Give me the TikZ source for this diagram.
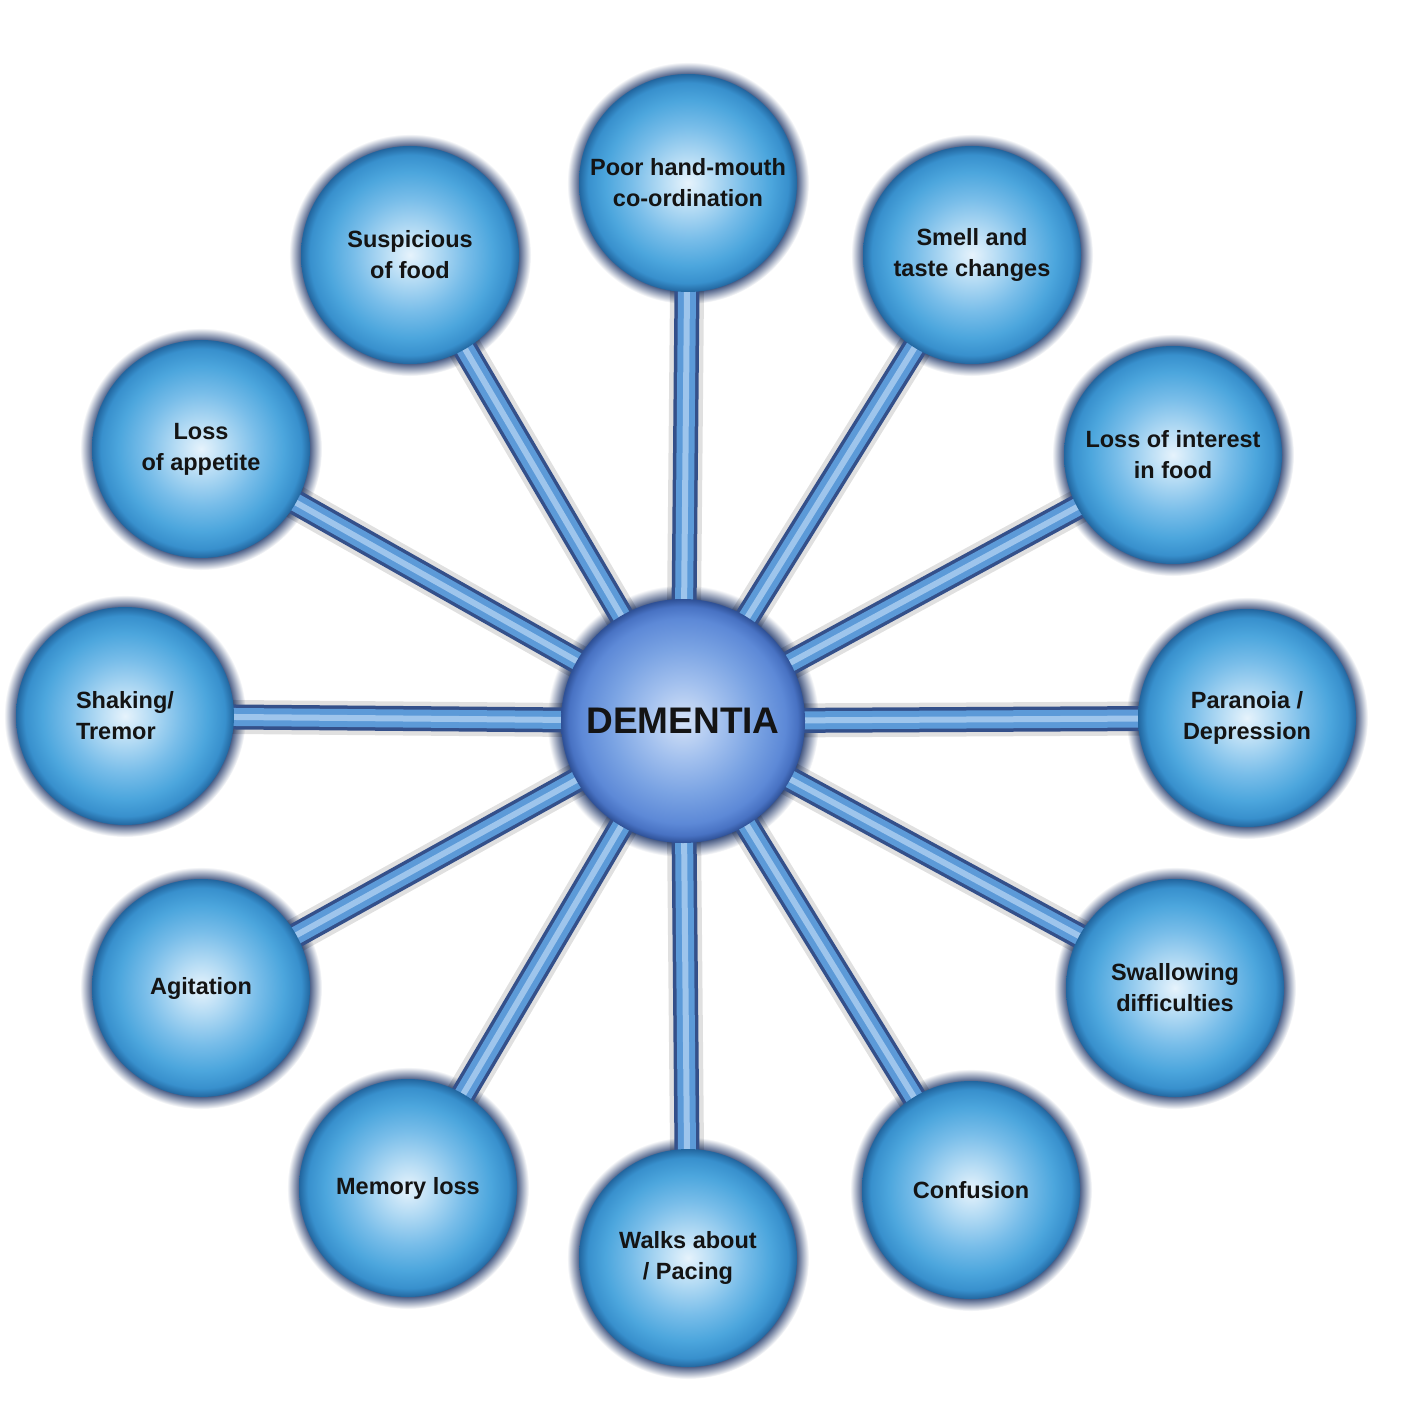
\documentclass[tikz,border=0pt]{standalone}
\usepackage{fontspec}
\setmainfont{Liberation Sans}
\definecolor{bubA}{HTML}{E6F3FC}
\definecolor{bubB}{HTML}{B4DBF4}
\definecolor{bubC}{HTML}{78BDE9}
\definecolor{bubD}{HTML}{4CA6DD}
\definecolor{bubE}{HTML}{3890CD}
\definecolor{bubF}{HTML}{22669F}
\definecolor{cenA}{HTML}{D4E2F7}
\definecolor{cenB}{HTML}{A2C0EE}
\definecolor{cenC}{HTML}{7AA3E3}
\definecolor{cenD}{HTML}{5D89D7}
\definecolor{cenE}{HTML}{4872C3}
\definecolor{cenF}{HTML}{2E5096}
\definecolor{haloC}{HTML}{2A4070}
\definecolor{spokeEdge}{HTML}{34508A}
\definecolor{spokeMid}{HTML}{5C9AD8}
\definecolor{spokeHi}{HTML}{AACDF0}
\definecolor{textc}{HTML}{141414}
\pgfdeclareradialshading{bubshade}{\pgfpointorigin}{color(0bp)=(bubA); color(6bp)=(bubB); color(13bp)=(bubC); color(19bp)=(bubD); color(23bp)=(bubE); color(25bp)=(bubF); color(50bp)=(bubF)}
\pgfdeclareradialshading{censhade}{\pgfpointorigin}{color(0bp)=(cenA); color(8bp)=(cenB); color(15bp)=(cenC); color(21bp)=(cenD); color(23.5bp)=(cenE); color(25bp)=(cenF); color(50bp)=(cenF)}
\pgfdeclareradialshading{haloshade}{\pgfpointorigin}{color(0bp)=(haloC); color(22bp)=(haloC); color(25bp)=(white); color(50bp)=(white)}
\pgfdeclarelayer{bg}
\pgfsetlayers{bg,main}
\begin{document}
\begin{tikzpicture}[x=1pt,y=-1pt,
  bubble/.style={circle, minimum size=218pt, inner sep=0pt, shading=bubshade,
    align=center, text=textc, font=\fontsize{23.5}{31}\selectfont\bfseries},
  hub/.style={circle, minimum size=244pt, inner sep=0pt, shading=censhade,
    text=textc, font=\fontsize{37}{40}\selectfont\bfseries},
  halo/.style={shading=haloshade},
  spoke/.style={line width=25pt, draw=spokeEdge,
    preaction={draw=black, draw opacity=0.12, line width=34pt},
    postaction={draw=spokeMid, line width=18pt},
    postaction={draw=spokeHi, draw opacity=0.85, line width=6pt}}]
\useasboundingbox (0,0) rectangle (1404,1423);

\node[hub] (c) at (683,721) {DEMENTIA};
\node[bubble] (n1) at (688,183) {Poor hand-mouth\\co-ordination};
\node[bubble] (n2) at (972,255) {Smell and\\taste changes};
\node[bubble] (n3) at (1173,455) {Loss of interest\\in food};
\node[bubble] (n4) at (1247,718) {Paranoia /\\Depression};
\node[bubble] (n5) at (1175,988) {Swallowing\\difficulties};
\node[bubble] (n6) at (971,1190) {Confusion};
\node[bubble] (n7) at (688,1258) {Walks about\\/ Pacing};
\node[bubble] (n8) at (408,1188) {Memory loss};
\node[bubble] (n9) at (201,988) {Agitation};
\node[bubble, align=left] (n10) at (125,716) {Shaking/\\Tremor};
\node[bubble] (n11) at (201,449) {Loss\\of appetite};
\node[bubble] (n12) at (410,255) {Suspicious\\of food};

\begin{pgfonlayer}{bg}
  \fill[white] (0,0) rectangle (1404,1423);
  \path[halo] (c.center) circle[radius=136pt];
  \foreach \n in {n1,n2,n3,n4,n5,n6,n7,n8,n9,n10,n11,n12}
    \path[halo] (\n.center) circle[radius=121pt];
  \foreach \n in {n1,n2,n3,n4,n5,n6,n7,n8,n9,n10,n11,n12}
    \draw[spoke] (c.center) -- (\n.center);
\end{pgfonlayer}
\end{tikzpicture}
\end{document}
